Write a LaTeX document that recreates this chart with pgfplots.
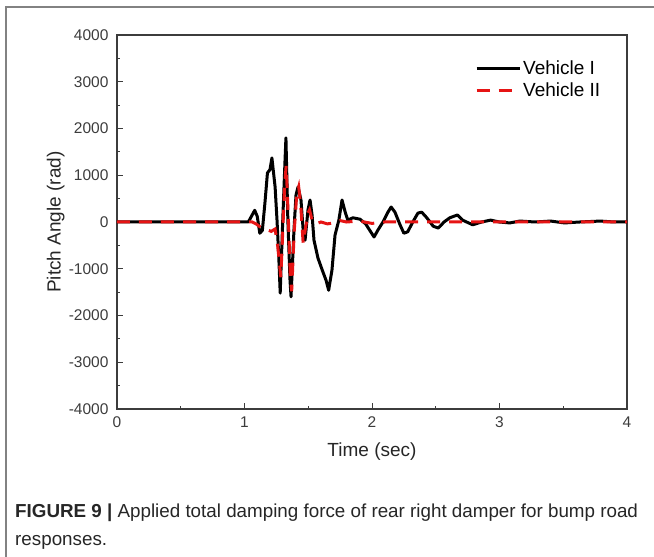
\documentclass[border=0pt]{standalone}
\usepackage{pgfplots}
\pgfplotsset{compat=1.18}
\usepackage{fontspec}
\setmainfont{Liberation Sans}
\definecolor{vred}{RGB}{230,20,20}
\definecolor{axgray}{RGB}{60,60,60}
\definecolor{framegray}{RGB}{130,130,130}

\begin{document}
\begin{tikzpicture}[x=1pt,y=1pt]
\useasboundingbox (0,0) rectangle (654,557);
% figure frame (right and bottom edges fall outside the page)
\draw[framegray, line width=1.4pt] (6,-20) -- (6,550) -- (680,550);

\begin{axis}[
    at={(117pt,148pt)}, anchor=south west,
    scale only axis, width=510pt, height=374pt,
    xmin=0, xmax=4, ymin=-4000, ymax=4000,
    xtick={0,1,2,3,4},
    ytick={-4000,-3000,-2000,-1000,0,1000,2000,3000,4000},
    minor x tick num=1, minor y tick num=1,
    xtick pos=left, ytick pos=left,
    tick align=inside,
    major tick length=6pt, minor tick length=3pt,
    axis line style={axgray, line width=1.1pt},
    every tick/.style={axgray, line width=1pt},
    /pgf/number format/1000 sep={},
    /pgf/number format/assume math mode=true,
    tick label style={font=\fontsize{15.5}{17}\selectfont, text=axgray},
    xticklabel style={yshift=-4pt},
    yticklabel style={xshift=-5pt},
    xlabel={Time (sec)}, ylabel={Pitch Angle (rad)},
    label style={font=\fontsize{19}{21}\selectfont, text=black!85},
    xlabel style={at={(axis description cs:0.5,-0.115)}, anchor=center},
    ylabel style={at={(axis description cs:-0.12,0.5)}, anchor=center},
    legend style={draw=none, fill=none, at={(0.70,0.94)}, anchor=north west,
        font=\fontsize{19}{21}\selectfont, row sep=3pt, inner sep=1pt},
    legend cell align=left,
    legend image code/.code={\draw[#1] (0pt,0pt) -- (43pt,0pt);},
]
\addplot[black, line width=3pt, line join=round] coordinates {
(0,0) (1.03,0) (1.06,150) (1.08,250) (1.10,120) (1.12,-240) (1.14,-180)
(1.16,400) (1.18,1050) (1.20,1120) (1.215,1370) (1.24,750) (1.255,40)
(1.27,-820) (1.28,-1520) (1.30,40) (1.318,1330) (1.325,1800) (1.34,40)
(1.357,-1250) (1.365,-1600) (1.388,-170) (1.404,580) (1.42,750) (1.443,470)
(1.46,-170) (1.475,-390) (1.498,260) (1.514,470) (1.53,150) (1.545,-390)
(1.576,-770) (1.61,-1030) (1.64,-1250) (1.66,-1460) (1.686,-1030) (1.71,-280)
(1.74,40) (1.765,470) (1.79,210) (1.81,40) (1.85,90) (1.906,60) (1.95,-40)
(1.99,-210) (2.016,-320) (2.047,-170) (2.086,0) (2.125,210) (2.15,320)
(2.18,210) (2.22,-60) (2.25,-240) (2.28,-210) (2.32,0) (2.36,190) (2.39,210)
(2.43,90) (2.48,-90) (2.52,-130) (2.565,0) (2.61,90) (2.67,150) (2.71,40)
(2.79,-60) (2.86,0) (2.93,40) (3.0,0) (3.08,-20) (3.16,20) (3.28,0)
(3.40,20) (3.51,-20) (3.63,0) (3.79,20) (3.9,0) (4,0)
};
\addlegendentry{Vehicle I}

\addplot[vred, line width=3pt, dash pattern=on 13pt off 9pt] coordinates {
(0,0) (1.06,0) (1.09,-40) (1.12,-100) (1.15,-130) (1.18,-170) (1.21,-200)
(1.24,-150) (1.26,-500) (1.285,-1180) (1.30,-200) (1.315,800) (1.327,1200)
(1.345,0) (1.36,-1200) (1.37,-1480) (1.39,-200) (1.41,600) (1.425,750)
(1.44,400) (1.46,-450) (1.48,-100) (1.50,200) (1.51,260) (1.53,40)
(1.56,-40) (1.60,0) (1.65,-40) (1.70,-20) (1.75,30) (1.80,0) (1.9,20)
(2.0,-30) (2.1,0) (2.5,0) (4,0)
};
\addlegendentry{Vehicle II}
\end{axis}

% caption
\node[anchor=base west, inner sep=0pt, text=black!85,
      font=\fontsize{18.8}{22}\selectfont] at (15,39)
  {\textbf{FIGURE 9 |} Applied total damping force of rear right damper for bump road};
\node[anchor=base west, inner sep=0pt, text=black!85,
      font=\fontsize{18.8}{22}\selectfont] at (15,11) {responses.};
\end{tikzpicture}
\end{document}
